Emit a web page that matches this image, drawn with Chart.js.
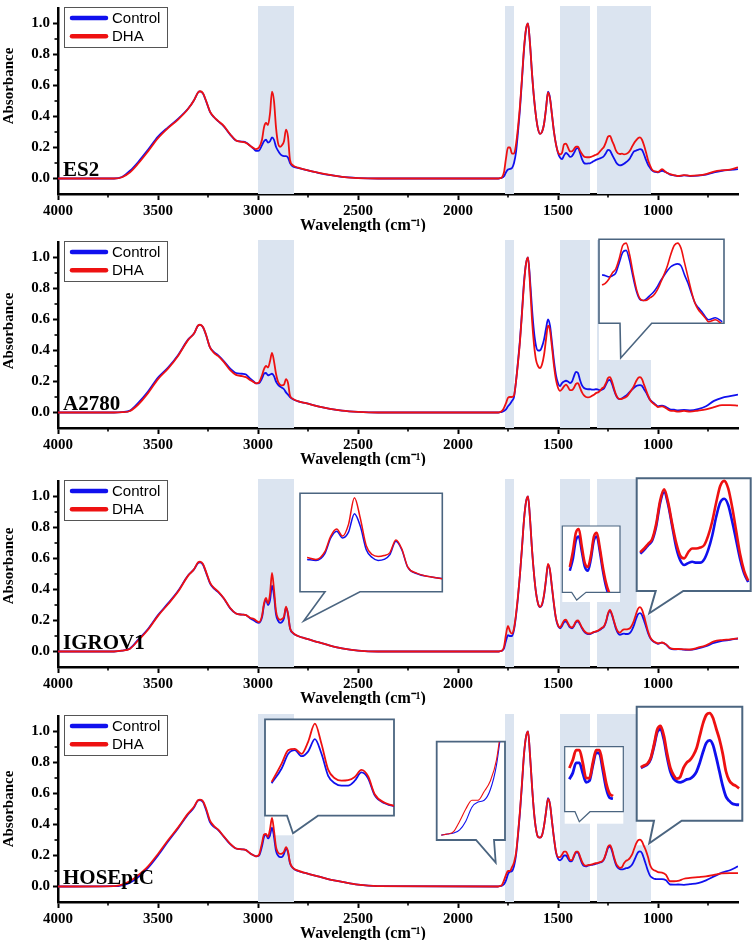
<!DOCTYPE html>
<html><head><meta charset="utf-8">
<script src="https://cdn.jsdelivr.net/npm/chart.js@4.4.1/dist/chart.umd.min.js"></script>
<style>
html,body{margin:0;padding:0;background:#fff;}
#wrap{position:relative;width:753px;height:941px;overflow:hidden;background:#fff;}
#wrap canvas{position:absolute;}
</style>
</head><body><div id="wrap"></div>
<script>
// ---------- DATA ----------
const WAVENUMBERS = [
 4000,3720,3680,3640,3600,3550,3500,3450,3400,3350,3320,3300,3290,3275,3260,3240,3220,3200,3170,3140,3110,3080,3060,3040,3020,
 3010,2995,2980,2970,2960,2950,2940,2930,2920,2910,2900,2890,2880,2870,2860,2850,2840,2825,2800,
 2760,2700,2640,2580,2500,2400,1800,
 1790,1780,1770,1760,1750,1740,1730,1720,1710,1700,
 1690,1680,1670,1660,1650,1640,1630,1620,1610,1600,
 1590,1580,1570,1560,1550,1540,1530,1520,1510,1500,
 1490,1480,1470,1460,1450,1440,1430,1420,1410,1400,
 1390,1380,1370,1360,1350,1340,1330,1320,1310,1300,
 1290,1280,1270,1260,1250,1240,1230,1220,1210,1200,
 1190,1180,1170,1160,1150,1140,1130,1120,1110,1100,
 1090,1080,1070,1060,1050,1040,1030,1020,1010,1000,
 980,960,940,920,900,870,840,800,760,720,680,640,600
];

const ES2_CONTROL = [
 0,0,0.01,0.05,0.105, 0.185,0.27,0.33,0.385,0.45, 0.505,0.555,0.562,0.548,0.5, 0.43,0.395,0.37,0.335,0.285, 0.245,0.238,0.232,0.212,0.19,
 0.178,0.18,0.215,0.24,0.25, 0.232,0.24,0.265,0.25,0.205, 0.18,0.16,0.148,0.145,0.145, 0.135,0.1,0.078,0.068,
 0.055,0.037,0.022,0.01,0.003,0,0,
 0.002,0.005,0.015,0.04,0.058,0.062,0.068,0.1,0.17,0.3,
 0.45,0.64,0.83,0.96,1.0,0.87,0.68,0.52,0.4,0.32,
 0.288,0.3,0.35,0.45,0.56,0.52,0.41,0.3,0.22,0.165,
 0.135,0.125,0.148,0.165,0.155,0.14,0.145,0.165,0.19,0.198,
 0.165,0.125,0.1,0.096,0.097,0.098,0.105,0.113,0.12,0.125,
 0.13,0.135,0.145,0.165,0.185,0.18,0.155,0.13,0.105,0.09,
 0.085,0.088,0.095,0.105,0.115,0.13,0.155,0.175,0.18,0.185,
 0.19,0.185,0.155,0.12,0.09,0.07,0.052,0.044,0.042,0.04,
 0.05,0.04,0.025,0.02,0.015,0.02,0.016,0.018,0.025,0.04,0.05,0.055,0.06
];
const ES2_DHA = [
 0,0,0.008,0.04,0.095, 0.175,0.26,0.325,0.38,0.448, 0.505,0.555,0.563,0.55,0.503, 0.432,0.397,0.372,0.338,0.287, 0.245,0.236,0.23,0.212,0.195,
 0.19,0.2,0.25,0.33,0.358, 0.345,0.42,0.56,0.5,0.33, 0.23,0.205,0.215,0.24,0.315, 0.27,0.12,0.085,0.07,
 0.056,0.038,0.023,0.011,0.003,0,0,
 0.002,0.008,0.04,0.13,0.2,0.2,0.16,0.16,0.22,0.33,
 0.47,0.65,0.84,0.965,1.0,0.87,0.68,0.52,0.4,0.32,
 0.288,0.3,0.35,0.45,0.555,0.515,0.41,0.3,0.22,0.17,
 0.155,0.165,0.22,0.225,0.2,0.175,0.175,0.19,0.205,0.205,
 0.18,0.158,0.142,0.138,0.137,0.138,0.142,0.148,0.153,0.16,
 0.175,0.19,0.205,0.235,0.27,0.275,0.245,0.215,0.18,0.162,
 0.158,0.16,0.156,0.158,0.165,0.18,0.205,0.228,0.245,0.26,
 0.265,0.25,0.215,0.17,0.12,0.085,0.058,0.048,0.045,0.042,
 0.06,0.04,0.028,0.022,0.016,0.022,0.017,0.02,0.028,0.045,0.053,0.057,0.072
];

const A2780_CONTROL = [
 0,0,0.003,0.012,0.06, 0.135,0.225,0.29,0.37,0.47, 0.51,0.56,0.565,0.55,0.5, 0.42,0.39,0.37,0.33,0.285, 0.255,0.25,0.245,0.22,0.198,
 0.188,0.19,0.22,0.25,0.255, 0.24,0.245,0.25,0.235,0.2, 0.18,0.168,0.16,0.15,0.13, 0.115,0.1,0.085,0.072,
 0.06,0.04,0.024,0.012,0.004,0,0,
 0.002,0.004,0.01,0.02,0.04,0.055,0.075,0.1,0.2,0.33,
 0.47,0.65,0.84,0.96,1.0,0.86,0.67,0.52,0.43,0.4,
 0.4,0.425,0.47,0.54,0.6,0.56,0.45,0.33,0.24,0.19,
 0.17,0.19,0.2,0.205,0.2,0.19,0.2,0.235,0.262,0.255,
 0.21,0.175,0.158,0.152,0.15,0.15,0.148,0.148,0.15,0.148,
 0.145,0.148,0.155,0.18,0.205,0.21,0.185,0.145,0.11,0.09,
 0.087,0.092,0.1,0.108,0.12,0.135,0.148,0.16,0.17,0.175,
 0.177,0.172,0.15,0.13,0.105,0.082,0.07,0.06,0.048,0.04,
 0.045,0.035,0.02,0.018,0.014,0.016,0.014,0.022,0.04,0.075,0.095,0.105,0.115
];
const A2780_DHA = [
 0,0,0.002,0.01,0.05, 0.125,0.215,0.283,0.365,0.467, 0.51,0.56,0.566,0.552,0.503, 0.42,0.385,0.365,0.325,0.275, 0.243,0.235,0.228,0.21,0.195,
 0.188,0.195,0.24,0.28,0.3, 0.29,0.33,0.385,0.33,0.25, 0.2,0.18,0.175,0.18,0.215, 0.19,0.11,0.088,0.073,
 0.06,0.04,0.024,0.012,0.004,0,0,
 0.002,0.01,0.03,0.06,0.095,0.1,0.1,0.11,0.2,0.32,
 0.46,0.64,0.83,0.96,1.0,0.83,0.6,0.44,0.34,0.3,
 0.287,0.31,0.37,0.47,0.56,0.53,0.42,0.3,0.21,0.16,
 0.14,0.15,0.168,0.18,0.165,0.145,0.145,0.16,0.185,0.19,
 0.16,0.13,0.11,0.1,0.098,0.1,0.108,0.115,0.125,0.13,
 0.14,0.155,0.165,0.19,0.222,0.228,0.2,0.155,0.115,0.092,
 0.087,0.088,0.094,0.1,0.112,0.13,0.15,0.172,0.2,0.222,
 0.228,0.215,0.18,0.145,0.11,0.082,0.065,0.055,0.045,0.035,
 0.04,0.028,0.012,0.01,0.006,0.01,0.006,0.012,0.02,0.035,0.048,0.048,0.044
];

const IGROV1_CONTROL = [
 0,0,0.005,0.02,0.075, 0.145,0.235,0.31,0.39,0.49, 0.53,0.57,0.575,0.56,0.51, 0.44,0.405,0.385,0.34,0.28, 0.245,0.238,0.235,0.215,0.2,
 0.19,0.185,0.22,0.3,0.335, 0.3,0.33,0.425,0.36,0.24, 0.2,0.185,0.19,0.215,0.283, 0.24,0.15,0.118,0.1,
 0.083,0.06,0.038,0.02,0.006,0,0,
 0.002,0.005,0.02,0.07,0.105,0.1,0.1,0.14,0.23,0.35,
 0.5,0.67,0.85,0.965,1.0,0.86,0.66,0.5,0.38,0.31,
 0.286,0.3,0.36,0.46,0.56,0.52,0.41,0.3,0.21,0.165,
 0.15,0.165,0.19,0.195,0.175,0.155,0.15,0.165,0.19,0.195,
 0.175,0.15,0.13,0.118,0.113,0.113,0.118,0.125,0.128,0.132,
 0.14,0.15,0.16,0.19,0.24,0.262,0.235,0.19,0.145,0.118,
 0.108,0.112,0.115,0.113,0.113,0.12,0.14,0.17,0.21,0.24,
 0.248,0.235,0.2,0.16,0.12,0.09,0.072,0.062,0.055,0.05,
 0.057,0.045,0.02,0.014,0.015,0.012,0.01,0.02,0.035,0.055,0.068,0.075,0.084
];
const IGROV1_DHA = [
 0,0,0.005,0.018,0.07, 0.14,0.23,0.305,0.385,0.488, 0.53,0.575,0.58,0.565,0.515, 0.445,0.41,0.388,0.342,0.282, 0.245,0.238,0.235,0.218,0.21,
 0.2,0.19,0.23,0.31,0.346, 0.31,0.37,0.507,0.4,0.26, 0.215,0.205,0.21,0.225,0.29, 0.245,0.152,0.12,0.1,
 0.083,0.06,0.038,0.02,0.006,0,0,
 0.002,0.006,0.03,0.11,0.165,0.13,0.115,0.15,0.24,0.36,
 0.5,0.67,0.85,0.965,1.0,0.86,0.66,0.5,0.38,0.31,
 0.288,0.305,0.365,0.465,0.565,0.525,0.415,0.305,0.215,0.17,
 0.155,0.175,0.2,0.205,0.182,0.16,0.155,0.17,0.195,0.2,
 0.18,0.155,0.135,0.122,0.116,0.116,0.12,0.127,0.13,0.135,
 0.143,0.153,0.163,0.195,0.245,0.268,0.24,0.195,0.155,0.128,
 0.122,0.135,0.143,0.143,0.145,0.15,0.17,0.2,0.24,0.275,
 0.286,0.27,0.23,0.18,0.13,0.095,0.075,0.064,0.057,0.052,
 0.058,0.046,0.022,0.016,0.016,0.014,0.013,0.025,0.04,0.065,0.074,0.078,0.085
];

const HOSEPIC_CONTROL = [
 0,0.002,0.008,0.025,0.06, 0.12,0.2,0.29,0.375,0.465, 0.51,0.555,0.558,0.545,0.495, 0.415,0.385,0.365,0.32,0.275, 0.245,0.24,0.235,0.215,0.2,
 0.195,0.2,0.26,0.32,0.335, 0.31,0.33,0.38,0.32,0.23, 0.2,0.19,0.19,0.21,0.244, 0.22,0.15,0.118,0.1,
 0.086,0.065,0.045,0.03,0.012,0.003,0,
 0.003,0.006,0.015,0.04,0.08,0.095,0.1,0.13,0.2,0.33,
 0.48,0.66,0.85,0.965,1.0,0.85,0.65,0.48,0.37,0.32,
 0.315,0.33,0.39,0.48,0.57,0.53,0.42,0.31,0.22,0.18,
 0.168,0.18,0.2,0.2,0.18,0.162,0.165,0.195,0.22,0.218,
 0.185,0.15,0.132,0.13,0.135,0.138,0.14,0.143,0.147,0.15,
 0.155,0.16,0.175,0.21,0.25,0.258,0.23,0.18,0.14,0.12,
 0.112,0.11,0.113,0.118,0.12,0.127,0.14,0.165,0.195,0.22,
 0.227,0.215,0.18,0.14,0.1,0.07,0.058,0.05,0.048,0.047,
 0.048,0.04,0.013,0.012,0.013,0.011,0.015,0.022,0.04,0.065,0.09,0.105,0.13
];
const HOSEPIC_DHA = [
 0,0.003,0.012,0.035,0.072, 0.13,0.21,0.298,0.38,0.47, 0.515,0.557,0.56,0.55,0.505, 0.425,0.39,0.368,0.322,0.277, 0.245,0.24,0.235,0.215,0.2,
 0.195,0.205,0.28,0.335,0.34, 0.32,0.37,0.443,0.36,0.255, 0.22,0.21,0.212,0.225,0.254, 0.228,0.155,0.12,0.102,
 0.086,0.065,0.045,0.03,0.012,0.003,0,
 0.003,0.01,0.04,0.075,0.1,0.1,0.125,0.155,0.215,0.34,
 0.49,0.67,0.855,0.965,1.0,0.85,0.65,0.48,0.37,0.32,
 0.315,0.33,0.39,0.48,0.565,0.53,0.42,0.31,0.225,0.19,
 0.19,0.205,0.225,0.225,0.2,0.17,0.17,0.2,0.225,0.225,
 0.195,0.16,0.14,0.135,0.138,0.14,0.143,0.147,0.15,0.152,
 0.157,0.162,0.178,0.215,0.257,0.267,0.24,0.19,0.15,0.13,
 0.12,0.125,0.15,0.165,0.172,0.185,0.205,0.24,0.275,0.298,
 0.303,0.29,0.26,0.23,0.19,0.14,0.115,0.105,0.1,0.093,
 0.09,0.075,0.034,0.034,0.036,0.05,0.055,0.06,0.065,0.075,0.085,0.086,0.086
];

const CELL_LINES = ['ES2', 'A2780', 'IGROV1', 'HOSEpiC'];
const SERIES_NAMES = ['Control', 'DHA'];
const X_TICKS = [4000, 3500, 3000, 2500, 2000, 1500, 1000];
const X_MINOR = [3750, 3250, 2750, 2250, 1750, 1250, 750];
const Y_TICKS = [0, 0.2, 0.4, 0.6, 0.8, 1.0];
const Y_MINOR = [0.1, 0.3, 0.5, 0.7, 0.9];
const SHADED_BANDS = [[3000, 2820], [1765, 1720], [1490, 1340], [1305, 1035]];
const X_TITLE = 'Wavelength (cm\u207B\u00B9)';
const Y_TITLE = 'Absorbance';

// ---------- LAYOUT / STYLE ----------
const SERIES = [[ES2_CONTROL, ES2_DHA], [A2780_CONTROL, A2780_DHA], [IGROV1_CONTROL, IGROV1_DHA], [HOSEPIC_CONTROL, HOSEPIC_DHA]];
const CANVAS_TOPS = [-4, 230, 469, 704];
const CW = 753, CH = 236;
const AREA = {left: 58, right: 738, top: 8, bottom: 198};
const YTITLE_OFF = [78, 89, 85, 93];
const BLUE = '#1010ee', RED = '#ee1111', SHADE = '#dbe4f0', FRAME = '#4b6580';
const SERIF = "'Liberation Serif', 'Times New Roman', serif";
const SANS = "'Liberation Sans', Arial, sans-serif";

// insets: page coordinates for frames; axis ranges in data units
const INSETS = [
 [],
 [{box:[599,239.3,724,323.3], tail:[[620,323.3],[620.7,358],[651.7,323.3]], xr:[955,1319], yr:[0.032,0.238], win:[960,1310], lw:1.6, fw:1.6}],
 [{box:[300,493.3,442.3,591.7], tail:[[325,591.7],[303.7,621],[360,591.7]], xr:[2782,3022], yr:[0.028,0.531], win:[2760,3010], lw:1.5, fw:1.6},
  {box:[562.3,526,620,592.3], tail:[[571.7,592.3],[576.7,600],[586,592.3]], xr:[1323,1516], yr:[0.122,0.209], win:[1350,1490], lw:2.5, fw:1.2},
  {box:[636.7,478.3,750.7,591], tail:[[655.7,591],[649.3,613.3],[683.3,591]], xr:[1023,1308], yr:[0.053,0.292], win:[1030,1300], lw:2.6, fw:2}],
 [{box:[265,719.3,394,815.7], tail:[[287,815.7],[293,833.3],[318,815.7]], xr:[2811,3005], yr:[0.07,0.462], win:[2800,2995], lw:1.8, fw:1.8},
  {box:[436.7,741.7,505,840], tail:[[476,840],[495.7,862.7],[494,840]], xr:[1696,1807], yr:[-0.014,0.267], win:[1700,1800], lw:1.1, fw:1.8},
  {box:[564.7,746.7,623.3,811.7], tail:[[575,811.7],[579.3,821.7],[590,811.7]], xr:[1327,1503], yr:[0.104,0.231], win:[1360,1490], lw:2.8, fw:1.2},
  {box:[636.7,706.7,742.3,820.7], tail:[[654,820.7],[649.3,843.3],[681.7,820.7]], xr:[988,1312], yr:[0.002,0.32], win:[1000,1305], lw:2.8, fw:2}]
];

const wrap = document.getElementById('wrap');
function makeCanvas(left, top, w, h) {
  const c = document.createElement('canvas');
  c.width = w; c.height = h;
  c.style.left = left + 'px'; c.style.top = top + 'px';
  c.style.width = w + 'px'; c.style.height = h + 'px';
  wrap.appendChild(c);
  return c;
}
function points(vals, win) {
  return WAVENUMBERS.map((w, i) => ({x: w, y: vals[i]}))
    .filter(p => !win || (p.x >= win[0] && p.x <= win[1]));
}

function decorPlugin(p) {
  const top0 = CANVAS_TOPS[p];
  return {
    id: 'decor' + p,
    beforeDatasetsDraw(chart) {
      const {ctx, chartArea: a, scales: {x}} = chart;
      ctx.save();
      ctx.fillStyle = SHADE;
      SHADED_BANDS.forEach(([hi, lo]) => {
        const x0 = x.getPixelForValue(hi), x1 = x.getPixelForValue(lo);
        ctx.fillRect(Math.min(x0, x1), a.top - 2, Math.abs(x1 - x0), a.bottom - a.top + 2);
      });
      INSETS[p].forEach(ins => {
        const [bx0, by0, bx1, by1] = ins.box;
        const t = ins.tail.map(q => [q[0], q[1] - top0]);
        const y0 = by0 - top0, y1 = by1 - top0;
        const minX = Math.min(bx0, t[1][0]), maxX = Math.max(bx1, t[1][0]);
        const maxY = Math.max(y1, t[1][1]);
        ctx.fillStyle = '#fff';
        ctx.fillRect(minX, y0, maxX - minX, maxY - y0 + 2);
        ctx.beginPath();
        ctx.moveTo(bx0, y0); ctx.lineTo(bx1, y0); ctx.lineTo(bx1, y1);
        ctx.lineTo(t[2][0], t[2][1]); ctx.lineTo(t[1][0], t[1][1]); ctx.lineTo(t[0][0], t[0][1]);
        ctx.lineTo(bx0, y1); ctx.closePath();
        ctx.strokeStyle = FRAME; ctx.lineWidth = ins.fw; ctx.lineJoin = 'miter';
        ctx.stroke();
      });
      ctx.restore();
    },
    afterDraw(chart) {
      const {ctx, chartArea: a, scales: {x, y}} = chart;
      ctx.save();
      // minor ticks
      ctx.strokeStyle = '#000'; ctx.lineWidth = 1.6;
      X_MINOR.forEach(v => { const px = x.getPixelForValue(v); ctx.beginPath(); ctx.moveTo(px, a.bottom); ctx.lineTo(px, a.bottom + 3.5); ctx.stroke(); });
      Y_MINOR.forEach(v => { const py = y.getPixelForValue(v); ctx.beginPath(); ctx.moveTo(a.left, py); ctx.lineTo(a.left - 3.5, py); ctx.stroke(); });
      // legend
      ctx.strokeStyle = '#555'; ctx.lineWidth = 1;
      ctx.fillStyle = '#fff';
      ctx.strokeRect(a.left + 6.5, a.top - 0.5, 103, 40);
      [BLUE, RED].forEach((col, i) => {
        const ly = a.top + 10 + i * 18.3;
        ctx.strokeStyle = col; ctx.lineWidth = 4.5; ctx.lineCap = 'round';
        ctx.beginPath(); ctx.moveTo(a.left + 14, ly); ctx.lineTo(a.left + 48, ly); ctx.stroke();
        ctx.fillStyle = '#000'; ctx.font = '15px ' + SANS; ctx.textAlign = 'left'; ctx.textBaseline = 'middle';
        ctx.fillText(SERIES_NAMES[i], a.left + 54, ly + 0.5);
      });
      // panel label
      ctx.fillStyle = '#000';
      ctx.font = 'bold 21px ' + SERIF; ctx.textAlign = 'left'; ctx.textBaseline = 'alphabetic';
      ctx.fillText(CELL_LINES[p], a.left + 5, a.top + 168);
      // axis titles
      ctx.font = 'bold 16px ' + SERIF; ctx.textAlign = 'center'; ctx.textBaseline = 'middle';
      ctx.fillText(X_TITLE, 363, a.bottom + 32);
      ctx.save();
      ctx.translate(9, a.top + YTITLE_OFF[p]);
      ctx.rotate(-Math.PI / 2);
      ctx.font = 'bold 15px ' + SERIF;
      ctx.fillText(Y_TITLE, 0, 0);
      ctx.restore();
      ctx.restore();
    }
  };
}

const tickFont = {family: SERIF, size: 15, weight: 'bold'};
CELL_LINES.forEach((name, p) => {
  const [ctrl, dha] = SERIES[p];
  const c = makeCanvas(0, CANVAS_TOPS[p], CW, CH);
  new Chart(c, {
    type: 'line',
    data: {datasets: [
      {label: SERIES_NAMES[1], data: points(dha), borderColor: RED, borderWidth: 1.8, order: 0},
      {label: SERIES_NAMES[0], data: points(ctrl), borderColor: BLUE, borderWidth: 1.8, order: 1}
    ]},
    options: {
      responsive: false, animation: false, events: [],
      layout: {padding: {left: 0, right: CW - AREA.right, top: AREA.top, bottom: 0}},
      plugins: {legend: {display: false}, tooltip: {enabled: false}, title: {display: false}},
      elements: {point: {radius: 0}, line: {cubicInterpolationMode: 'monotone', fill: false}},
      scales: {
        x: {type: 'linear', reverse: true, min: 600, max: 4000,
            afterBuildTicks: s => { s.ticks = X_TICKS.map(v => ({value: v})); },
            afterFit: s => { s.height = CH - AREA.bottom; },
            ticks: {autoSkip: false, maxRotation: 0, padding: 2, color: '#000', font: tickFont, callback: v => String(v)},
            grid: {drawOnChartArea: false, drawTicks: true, tickLength: 6, tickWidth: 2, tickColor: '#000'},
            border: {display: true, color: '#000', width: 2.5}},
        y: {type: 'linear', min: -0.1, max: 1.1,
            afterBuildTicks: s => { s.ticks = Y_TICKS.map(v => ({value: v})); },
            afterFit: s => { s.width = AREA.left; },
            ticks: {autoSkip: false, padding: 3, color: '#000', font: tickFont, callback: v => Number(v).toFixed(1)},
            grid: {drawOnChartArea: false, drawTicks: true, tickLength: 5, tickWidth: 2, tickColor: '#000'},
            border: {display: true, color: '#000', width: 2.5}}
      }
    },
    plugins: [decorPlugin(p)]
  });
});

// insets: zoomed views of the same series
CELL_LINES.forEach((name, p) => {
  const [ctrl, dha] = SERIES[p];
  INSETS[p].forEach(ins => {
    const [x0, y0, x1, y1] = ins.box;
    const c = makeCanvas(x0, y0, Math.round(x1 - x0), Math.round(y1 - y0));
    new Chart(c, {
      type: 'line',
      data: {datasets: [
        {label: SERIES_NAMES[1], data: points(dha, ins.win), borderColor: RED, borderWidth: ins.lw, order: 0},
        {label: SERIES_NAMES[0], data: points(ctrl, ins.win), borderColor: BLUE, borderWidth: ins.lw, order: 1}
      ]},
      options: {
        responsive: false, animation: false, events: [],
        layout: {padding: 0},
        plugins: {legend: {display: false}, tooltip: {enabled: false}},
        elements: {point: {radius: 0}, line: {cubicInterpolationMode: 'monotone', fill: false}},
        scales: {
          x: {type: 'linear', reverse: true, min: ins.xr[0], max: ins.xr[1], display: false},
          y: {type: 'linear', min: ins.yr[0], max: ins.yr[1], display: false}
        }
      }
    });
  });
});
</script>
</body></html>
